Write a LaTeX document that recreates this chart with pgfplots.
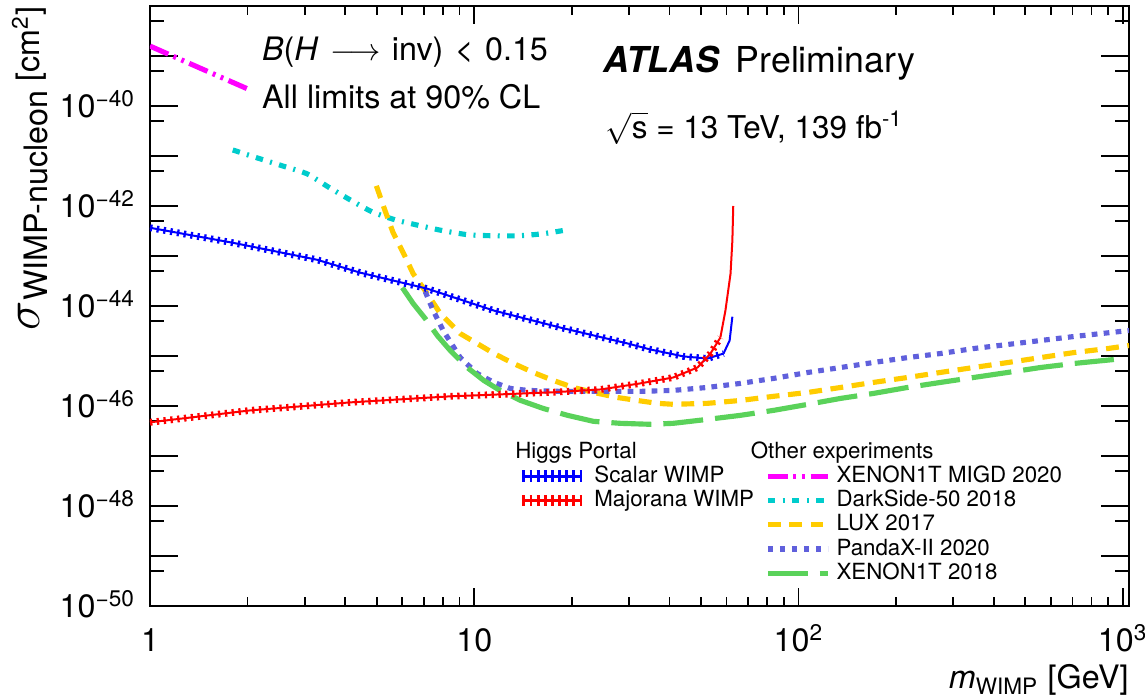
\documentclass[border=0pt]{standalone}
\usepackage{fontspec}
\setmainfont{TeX Gyre Heros}
\usepackage{pgfplots}
\pgfplotsset{compat=1.18}

\definecolor{migd}{RGB}{255,0,255}
\definecolor{darkside}{RGB}{0,204,204}
\definecolor{lux}{RGB}{255,204,0}
\definecolor{pandax}{RGB}{96,96,220}
\definecolor{xenon}{RGB}{90,210,90}
\definecolor{scalar}{RGB}{0,0,255}
\definecolor{majorana}{RGB}{255,0,0}

\pgfplotsset{
  migdline/.style={migd, line width=1.8pt, dash pattern=on 7pt off 2pt on 1pt off 2pt on 1pt off 2pt},
  dsline/.style={darkside, line width=1.8pt, dash pattern=on 2.6pt off 2.6pt on 0.7pt off 2.6pt},
  luxline/.style={lux, line width=1.8pt, dash pattern=on 4.5pt off 3pt},
  pxline/.style={pandax, line width=1.8pt, dash pattern=on 2pt off 2.2pt},
  xeline/.style={xenon, line width=1.8pt, dash pattern=on 14pt off 4.2pt},
  scline/.style={scalar, line width=0.7pt, postaction={draw=scalar, line width=2.4pt, dash pattern=on 0.8pt off 1.6pt}},
  mjline/.style={majorana, line width=0.7pt, postaction={draw=majorana, line width=2.4pt, dash pattern=on 0.8pt off 1.6pt}},
  scleg/.style={scalar, line width=1pt, postaction={draw=scalar, line width=4pt, dash pattern=on 1pt off 1.5pt}},
  mjleg/.style={majorana, line width=1pt, postaction={draw=majorana, line width=4pt, dash pattern=on 1pt off 1.5pt}},
}

\begin{document}
\begin{tikzpicture}
\begin{axis}[
  scale only axis, width=342.7pt, height=210pt,
  xmode=log, ymode=log,
  xmin=1, xmax=1045, ymin=1e-50, ymax=1e-38,
  xtick={1,10,100,1000},
  xticklabels={1,10,10\textsuperscript{2},10\textsuperscript{3}},
  minor xtick={2,3,4,5,6,7,8,9,20,30,40,50,60,70,80,90,200,300,400,500,600,700,800,900},
  ytick={1e-50,1e-49,1e-48,1e-47,1e-46,1e-45,1e-44,1e-43,1e-42,1e-41,1e-40,1e-39,1e-38},
  yticklabels={10\textsuperscript{−50},,10\textsuperscript{−48},,10\textsuperscript{−46},,10\textsuperscript{−44},,10\textsuperscript{−42},,10\textsuperscript{−40},,},
  minor ytick={5e-50,5e-49,5e-48,5e-47,5e-46,5e-45,5e-44,5e-43,5e-42,5e-41,5e-40,5e-39},
  tick align=inside, tick pos=both,
  major tick length=9.8pt, minor tick length=4.9pt,
  xtick style={/pgfplots/major tick length=6.3pt, /pgfplots/minor tick length=3.2pt},
  every tick/.style={black, line width=0.6pt},
  axis line style={line width=0.8pt},
  tick label style={font=\fontsize{11.3}{13}\selectfont},
  xticklabel style={anchor=base, yshift=-16pt},
  yticklabel style={anchor=base east, xshift=-1.6pt, yshift=-4pt},
  label style={font=\fontsize{11.3}{13}\selectfont},
  xlabel={\textit{m}\textsubscript{WIMP} [GeV]},
  xlabel style={at={(rel axis cs:1,-0.097)}, anchor=north east, inner sep=0pt},
  ylabel={{\fontsize{17}{17}\selectfont$\sigma$}\raisebox{-3pt}{WIMP-nucleon} [cm\textsuperscript{2}]},
  ylabel style={at={(rel axis cs:-0.1226,1.0)}, anchor=east, inner sep=0pt},
  legend columns=2,
  legend cell align=left,
  legend style={draw=none, fill=none, at={(rel axis cs:0.374,0.278)}, anchor=north west,
    font=\fontsize{7.8}{8}\selectfont, inner sep=0pt,
    nodes={inner xsep=2.2pt, inner ysep=0pt, text height=6.4pt, text depth=2.1pt},
    /tikz/every even column/.append style={column sep=1.7pt}},
  legend image code/.code={\draw[#1] (0pt,0pt) -- (21pt,0pt);},
]

% XENON1T MIGD 2020
\addplot[migdline, forget plot] coordinates {(1,1.58e-39) (1.43,5.7e-40) (2.0,2.2e-40)};

% DarkSide-50 2018
\addplot[dsline, smooth, tension=0.4, forget plot] coordinates {
 (1.80,1.32e-41) (2.19,8.75e-42) (2.57,6.3e-42) (3.05,4.4e-42) (3.54,2.42e-42)
 (4.14,1.33e-42) (4.84,7.66e-43) (5.70,5.3e-43) (6.81,4.03e-43) (8.02,3.2e-43)
 (9.58,2.66e-43) (11.4,2.54e-43) (13.7,2.54e-43) (16.3,2.79e-43) (19.4,3.35e-43)};

% LUX 2017
\addplot[luxline, forget plot] coordinates {
 (4.99,2.53e-42) (5.31,8.0e-43) (5.62,2.92e-43) (6.04,1.16e-43) (6.48,4.43e-44)
 (7.16,1.77e-44) (7.86,7.05e-45) (9.05,2.81e-45) (10.2,1.78e-45) (11.5,1.12e-45)
 (13.2,7.1e-46) (15.2,4.69e-46) (17.5,3.25e-46) (20.2,2.35e-46) (23.3,1.87e-46)
 (27.6,1.48e-46) (31.8,1.29e-46) (36.7,1.13e-46) (41.1,1.08e-46) (52.4,1.13e-46)
 (66.2,1.29e-46) (83.7,1.56e-46) (107,1.87e-46) (135,2.35e-46) (170,2.96e-46)
 (217,3.72e-46) (274,4.69e-46) (347,5.89e-46) (442,7.4e-46) (558,9.3e-46)
 (706,1.17e-45) (899,1.41e-45) (1045,1.62e-45)};

% PandaX-II 2020
\addplot[pxline, forget plot] coordinates {
 (7.06,1.94e-44) (7.47,8.1e-45) (8.02,3.23e-45) (9.05,9.3e-46) (10.2,4.47e-46)
 (11.5,2.96e-46) (12.9,2.25e-46) (14.6,2.05e-46) (18.4,1.96e-46) (24.5,1.96e-46)
 (32.5,1.96e-46) (41.1,2.05e-46) (52.4,2.35e-46) (66.2,2.83e-46) (83.7,3.56e-46)
 (107,4.69e-46) (135,5.89e-46) (170,7.4e-46) (217,9.3e-46) (274,1.12e-45)
 (347,1.41e-45) (442,1.70e-45) (558,2.04e-45) (706,2.45e-45) (1045,3.23e-45)};

% XENON1T 2018
\addplot[xeline, forget plot] coordinates {
 (6.0,2.33e-44) (6.48,1.12e-44) (7.06,5.6e-45) (7.69,2.57e-45) (8.43,1.29e-45)
 (9.51,5.89e-46) (10.7,3.24e-46) (12.0,2.05e-46) (13.9,1.29e-46) (16.3,8.95e-47)
 (19.4,6.5e-47) (23.3,4.93e-47) (28.2,4.5e-47) (34.9,4.3e-47) (41.1,4.5e-47)
 (52.4,5.4e-47) (66.2,6.5e-47) (83.7,8.17e-47) (107,1.08e-46) (135,1.42e-46)
 (170,1.78e-46) (217,2.35e-46) (274,2.96e-46) (347,3.72e-46) (442,4.69e-46)
 (558,5.89e-46) (706,7.08e-46) (938,8.5e-46)};

% Higgs portal, scalar WIMP (hatched part, then the steep end)
\addplot[scline, forget plot] coordinates {
 (1,3.67e-43) (1.8,1.84e-43) (3.27,8.43e-44) (4.45,4.64e-44) (7.16,2.22e-44)
 (11.5,8.09e-45) (18.4,3.71e-45) (29.7,1.78e-45) (34.9,1.35e-45) (44.2,9.8e-46)
 (52.4,8.9e-46) (58.7,1.12e-45)};
\addplot[scalar, line width=0.7pt, forget plot] coordinates {
 (58.7,1.12e-45) (61.3,2.04e-45) (62.5,6.1e-45)};

% Higgs portal, Majorana WIMP (hatched part, then the steep end)
\addplot[mjline, forget plot] coordinates {
 (1,4.71e-47) (2.04,8.17e-47) (4.14,1.18e-46) (8.43,1.56e-46) (17.2,1.87e-46)
 (24.5,2.14e-46) (32.5,2.83e-46) (41.1,3.72e-46) (48.8,5.89e-46) (53.5,1.12e-45)
 (57.4,2.34e-45)};
\addplot[majorana, line width=0.7pt, forget plot] coordinates {
 (57.4,2.34e-45) (59.5,8.1e-45) (61.7,4.43e-44) (62.5,2.02e-43) (62.9,1e-42)};

\addlegendimage{empty legend}\addlegendentry{\hspace*{-27.7pt}Higgs Portal}
\addlegendimage{empty legend}\addlegendentry{\hspace*{-30pt}Other experiments}
\addlegendimage{scleg}\addlegendentry{Scalar WIMP}
\addlegendimage{migdline}\addlegendentry{XENON1T MIGD 2020}
\addlegendimage{mjleg}\addlegendentry{Majorana WIMP}
\addlegendimage{dsline}\addlegendentry{DarkSide-50 2018}
\addlegendimage{empty legend}\addlegendentry{}
\addlegendimage{luxline}\addlegendentry{LUX 2017}
\addlegendimage{empty legend}\addlegendentry{}
\addlegendimage{pxline}\addlegendentry{PandaX-II 2020}
\addlegendimage{empty legend}\addlegendentry{}
\addlegendimage{xeline}\addlegendentry{XENON1T 2018}

\node[anchor=base west, inner sep=0pt, font=\fontsize{11.3}{13}\selectfont] at (rel axis cs:0.114,0.91)
  {\textit{B}(\textit{H}\hspace{4pt}$\longrightarrow$\hspace{4pt}inv)\hspace{4pt}<\hspace{4pt}0.15};
\node[anchor=base west, inner sep=0pt, font=\fontsize{11.3}{13}\selectfont] at (rel axis cs:0.114,0.83)
  {All limits at 90\% CL};
\node[anchor=base west, inner sep=0pt, font=\fontsize{12.5}{14}\selectfont] at (rel axis cs:0.4626,0.89)
  {\textbf{\textit{ATLAS}}\, Preliminary};
\node[anchor=base west, inner sep=0pt, font=\fontsize{11}{13}\selectfont] at (rel axis cs:0.465,0.78)
  {$\sqrt{\mbox{s}}$ = 13 TeV, 139 fb\textsuperscript{-1}};

\coordinate (bl) at (rel axis cs:-0.1532,-0.1533);
\coordinate (tr) at (rel axis cs:1.0163,1.01);
\end{axis}
\pgfresetboundingbox
\path[use as bounding box] (bl) rectangle (tr);
\end{tikzpicture}
\end{document}
